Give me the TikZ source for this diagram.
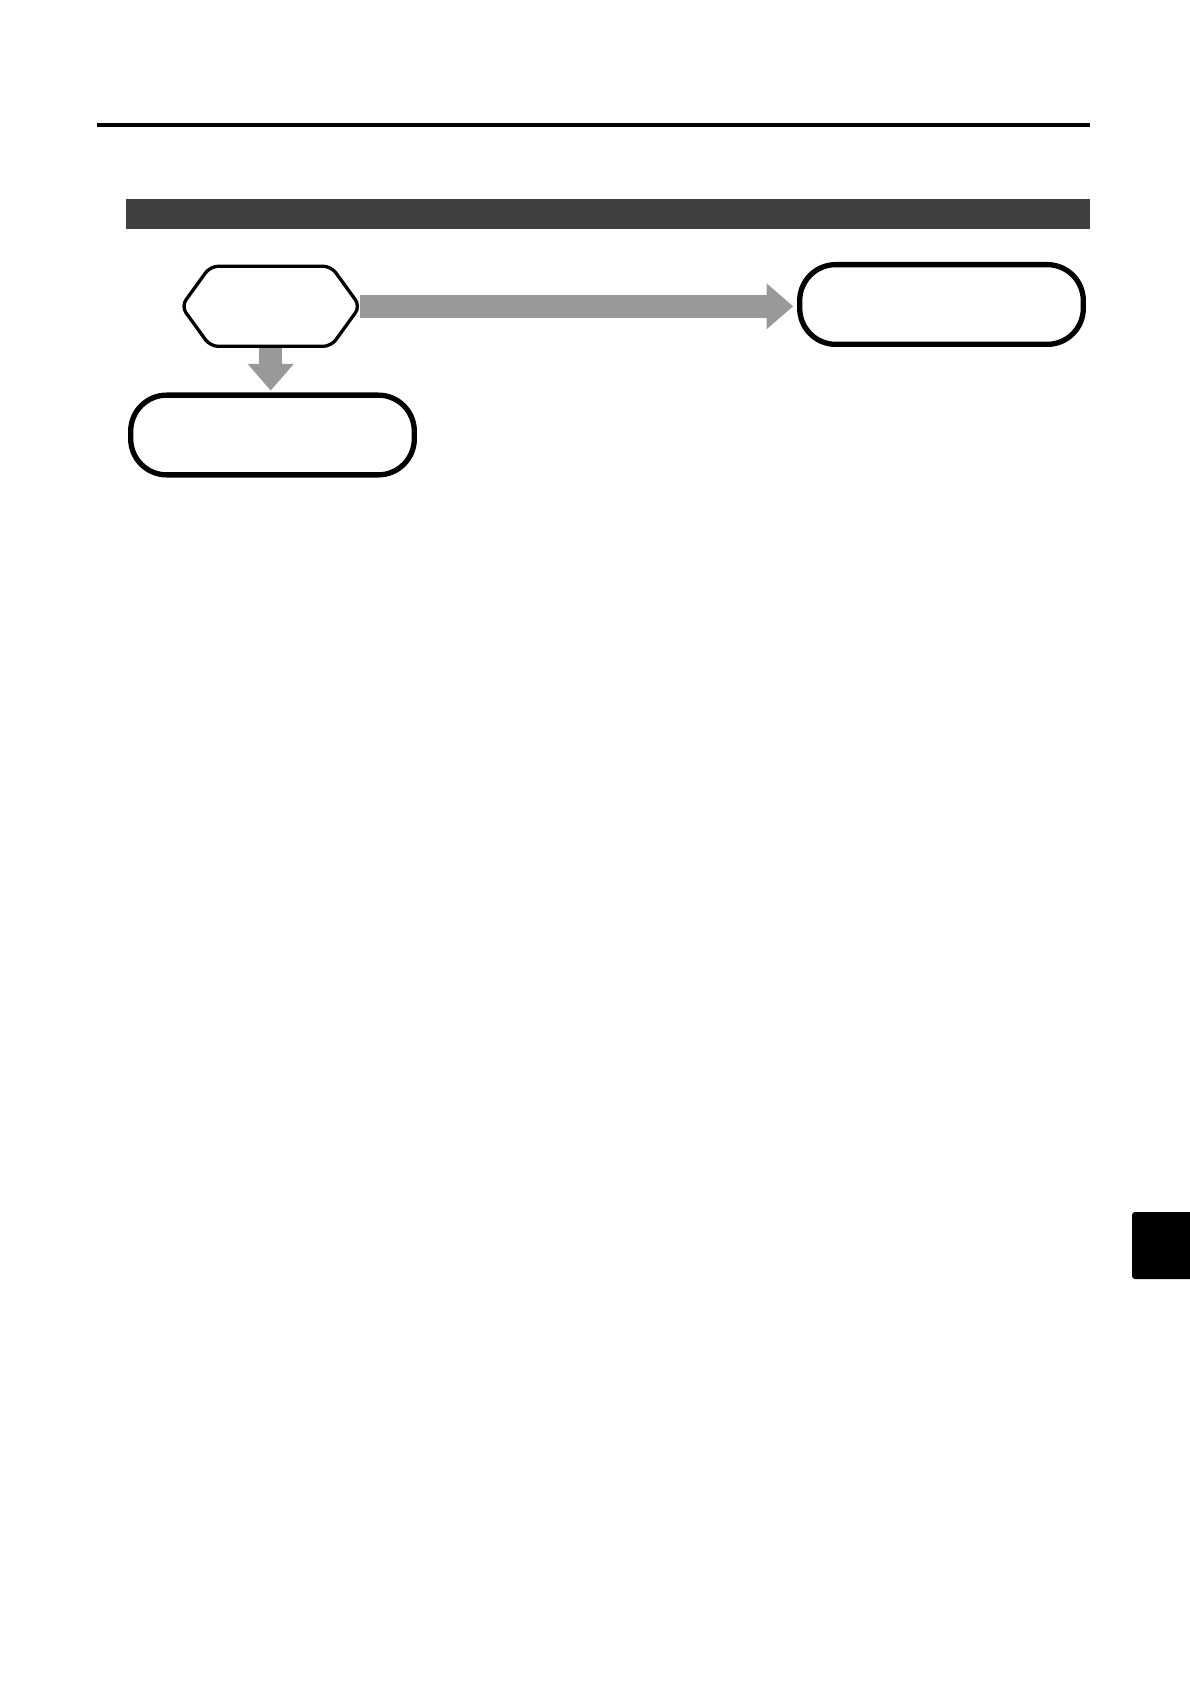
\documentclass[tikz,border=0pt]{standalone}
\usepackage{tikz}
\usetikzlibrary{arrows.meta}
\definecolor{bar_grey}{RGB}{64, 64, 64}
\definecolor{arr_grey}{RGB}{153, 153, 153}
\tikzstyle{hn}=[inner sep=0pt,minimum width=89pt,minimum height=39.65pt]
\tikzstyle{hx}=[draw=black,fill=white,line width=1.65pt,rounded corners=4pt]
\tikzstyle{rb}=[rectangle,rounded corners=18pt,draw=black,fill=white,
  line width=2.65pt,inner sep=0pt,minimum width=141.8pt,minimum height=39.85pt]
\tikzstyle{ga}=[draw=arr_grey,line width=11.75pt,
  -{Triangle[length=13.25pt,width=23pt,line width=0pt]}]

\begin{document}
\begin{tikzpicture}[x=0.5pt,y=-0.5pt]
            \useasboundingbox (0, 0) rectangle (1189, 1684);
            \draw [line width=2.15pt] (97, 125) -- (1090, 125);
            \fill [bar_grey] (126, 199) rectangle (1090, 229.5);
            \fill [black,rounded corners=1.5pt] (1132, 1212) rectangle (1200, 1279);
            \node [style=hn] (0) at (270.7, 306.3) {};
            \node [style=rb] (1) at (941.5, 304.5) {};
            \node [style=rb] (2) at (272.5, 435) {};
            \draw [style=ga,shorten >=2pt] (0.east) -- (0.east -| 1.west);
            \draw [style=ga,shorten >=1pt] (0.south) -- (0.south |- 2.north);
            \draw [style=hx] (0.west) -- ([xshift=14.5pt]0.north west)
              -- ([xshift=-14.5pt]0.north east) -- (0.east)
              -- ([xshift=-14.5pt]0.south east) -- ([xshift=14.5pt]0.south west) -- cycle;
    \end{tikzpicture}
\end{document}
